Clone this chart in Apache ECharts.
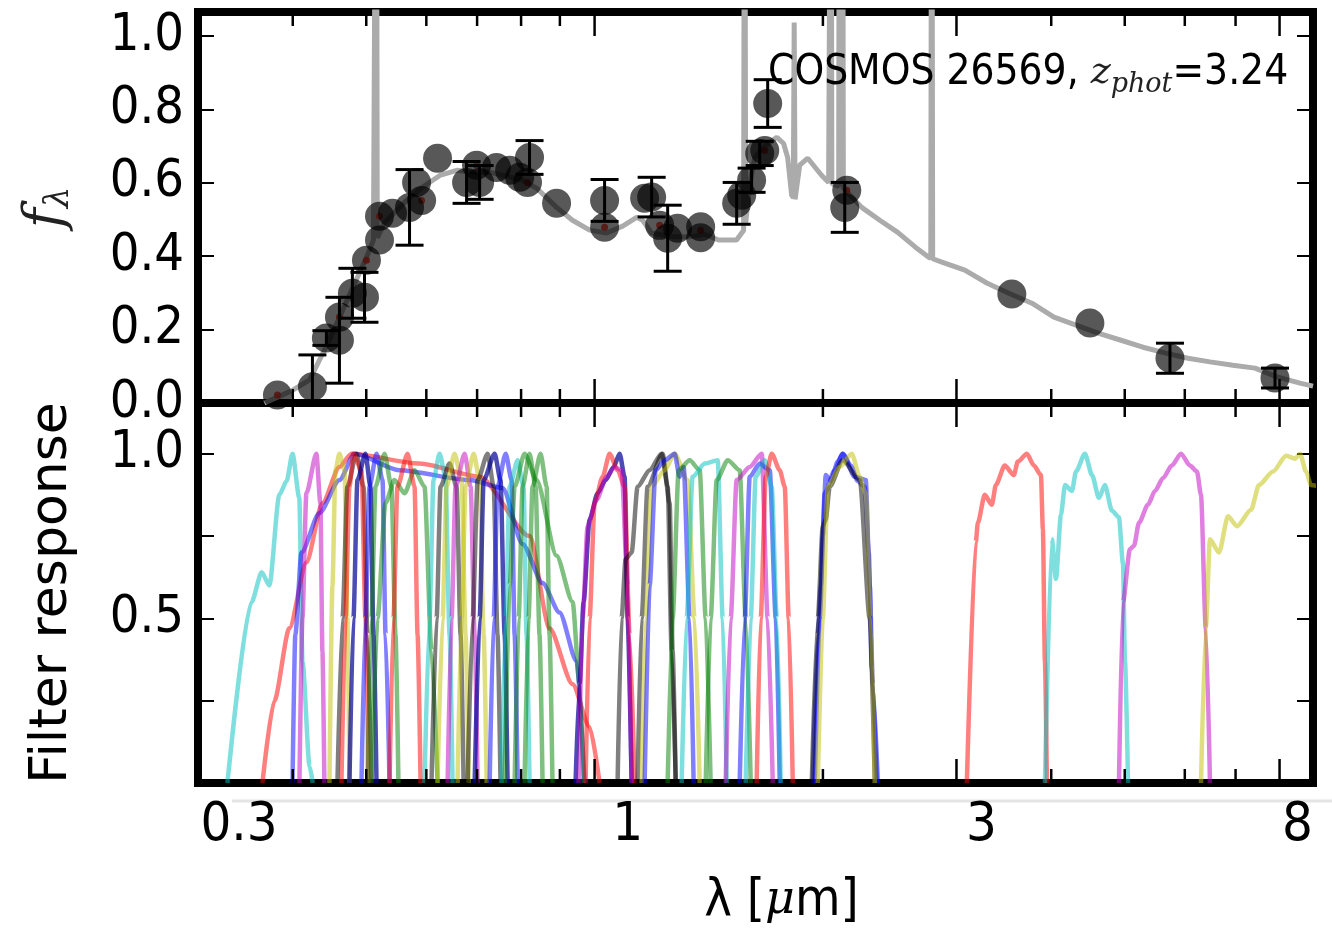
<!DOCTYPE html>
<html><head><meta charset="utf-8">
<script src="https://cdn.jsdelivr.net/npm/echarts@6/dist/echarts.min.js"></script>
<style>html,body{margin:0;padding:0;background:#fff}#c{width:1332px;height:928px}</style>
</head><body><div id="c"></div>
<script>
// ---------------- DATA ----------------
// model SED (wavelength in micron, f_lambda)
const modelLam = [0.367,0.382,0.400,0.421,0.447,0.475,0.500,0.511,0.514,0.5155,0.517,0.528,0.545,0.565,0.593,0.625,0.658,0.690,0.727,0.765,0.804,0.839,0.891,0.935,0.985,1.037,1.089,1.136,1.157,1.189,1.256,1.326,1.397,1.457,1.539,1.563,1.572,1.577,1.582,1.601,1.626,1.671,1.717,1.739,1.775,1.797,1.819,1.828,1.833,1.838,1.848,1.864,1.910,1.993,2.035,2.045,2.05,2.055,2.098,2.103,2.108,2.118,2.123,2.128,2.131,2.250,2.377,2.510,2.651,2.758,2.775,2.783,2.791,2.870,3.077,3.289,3.517,3.772,4.033,4.312,4.623,4.943,5.284,5.666,6.058,6.477,6.944,7.425,7.940,8.512,8.855];
const modelF   = [0,0.016,0.035,0.063,0.171,0.294,0.395,0.444,0.445,2.0,0.45,0.490,0.520,0.552,0.588,0.620,0.634,0.629,0.629,0.618,0.607,0.585,0.533,0.498,0.471,0.463,0.482,0.506,0.498,0.463,0.454,0.452,0.460,0.444,0.444,0.463,0.47,2.0,0.49,0.593,0.669,0.697,0.716,0.724,0.707,0.669,0.566,0.56,1.037,0.555,0.552,0.648,0.667,0.620,0.601,0.60,2.0,0.598,0.59,2.0,0.589,0.588,2.0,0.586,0.585,0.533,0.498,0.465,0.424,0.397,0.395,2.0,0.393,0.384,0.362,0.327,0.299,0.272,0.234,0.212,0.190,0.171,0.152,0.136,0.122,0.112,0.103,0.095,0.071,0.054,0.046];

// observed photometry
const photLam = [0.3818,0.4246,0.4430,0.4609,0.4609,0.4794,0.4973,0.5003,0.5205,0.5205,0.5415,0.5702,0.5915,0.5825,0.6208,0.6780,0.6989,0.7054,0.7425,0.7727,0.7966,0.8208,0.8157,0.8910,1.0308,1.0308,1.1641,1.1891,1.2183,1.2484,1.2866,1.3799,1.3799,1.5393,1.5630,1.6107,1.6509,1.6763,1.6913,2.1503,2.1370,3.549,4.498,5.736,7.890];
const photF   = [0.022,0.044,0.177,0.171,0.234,0.299,0.288,0.389,0.444,0.509,0.517,0.533,0.552,0.601,0.667,0.601,0.648,0.601,0.642,0.634,0.615,0.669,0.601,0.544,0.552,0.479,0.558,0.561,0.484,0.449,0.476,0.480,0.450,0.544,0.566,0.607,0.680,0.688,0.816,0.580,0.533,0.297,0.218,0.122,0.068];
const photErr = [0,0.087,0.02,0.117,0,0.068,0.068,0,0,0,0,0.103,0,0,0,0.057,0,0.046,0,0,0,0.046,0,0,0.057,0,0,0.054,0,0.090,0,0,0,0.057,0,0.033,0.033,0,0.065,0,0.068,0,0,0.041,0.027];

// model photometry (small red markers)
const redLam = [0.3818,0.4609,0.5003,0.5205,0.5915,0.6989,0.8157,1.0308,1.2183,1.3799,1.6763,2.1503];
const redF   = [0.022,0.234,0.389,0.509,0.552,0.648,0.601,0.479,0.484,0.471,0.688,0.580];

// filter transmission curves
const filterColor = ['c','r','b','m','y','k','r','b2','b','g','g','r','c','k','y','m','y','k','b2','b','c','g','g','g','b2','r','m','k','k','y','b','g','c','g','m','b','c','r','b','b','k','y','r','c','m','y'];
const filterLam = [
 [0.328,0.353,0.364,0.3726,0.384,0.3926,0.3997,0.408,0.412,0.421,0.425],
 [0.3648,0.3783,0.3959,0.4169,0.4377,0.4609,0.478,0.5878,0.7054,0.8208,0.8722,0.9354,0.9849,1.0153],
 [0.3997,0.4031,0.4107,0.4337,0.4609,0.4825,0.5531,0.6843,0.7564,0.8036,0.8539,0.8991,0.9468,0.9701],
 [0.4082,0.4119,0.4169,0.4297,0.4350,0.4377,0.4403],
 [0.4471,0.4512,0.4553,0.4609,0.4680,0.4722,0.4751],
 [0.4581,0.4652,0.4722,0.4854,0.4958,0.5018,0.5080],
 [0.4637,0.4694,0.4751,0.4809,0.4928,0.4988,0.5034],
 [0.4751,0.4809,0.4868,0.4988,0.5064,0.5111,0.5158],
 [0.4928,0.4988,0.5049,0.5158,0.5253,0.5302,0.5366],
 [0.5018,0.5080,0.5142,0.5285,0.5397,0.5464,0.5513],
 [0.5080,0.5174,0.5300,0.5446,0.5616,0.5789,0.5967,0.6095,0.6208],
 [0.5366,0.5430,0.5497,0.5668,0.5789,0.5843,0.5896],
 [0.5967,0.6059,0.6132,0.6246,0.6360,0.6439,0.6497],
 [0.6095,0.6190,0.6265,0.6439,0.6577,0.6658,0.6719],
 [0.6208,0.6304,0.6380,0.6537,0.6678,0.6760,0.6822],
 [0.6401,0.6478,0.6557,0.6740,0.6864,0.6948,0.7011],
 [0.6597,0.6678,0.6760,0.6927,0.7054,0.7141,0.7206],
 [0.6801,0.6906,0.7012,0.7228,0.7361,0.7448,0.7516],
 [0.6948,0.7054,0.7141,0.7383,0.7516,0.7611,0.7679],
 [0.7272,0.7361,0.7448,0.7634,0.7774,0.7845,0.7917],
 [0.7538,0.7634,0.7727,0.7917,0.8060,0.8134,0.8208],
 [0.7845,0.7941,0.8036,0.8208,0.8360,0.8461,0.8539],
 [0.7610,0.7727,0.7845,0.8085,0.8386,0.8910,0.9354,0.9554,0.9671],
 [0.8085,0.8183,0.8283,0.8487,0.8645,0.8722,0.8800],
 [0.9439,0.9554,0.9671,0.9849,1.0092,1.0340,1.0595,1.0789,1.0954,1.1054,1.1190],
 [0.9730,0.9849,1.0,1.0247,1.0466,1.0723,1.0954,1.1122,1.1293],
 [0.9526,0.9643,0.9790,1.0061,1.0371,1.0627,1.0854,1.1054,1.1190],
 [1.0723,1.0854,1.0988,1.1190,1.1395,1.1819,1.2257,1.2484,1.2636,1.2793],
 [1.1395,1.1535,1.1746,1.2294,1.2559,1.2674,1.2793],
 [1.1535,1.1675,1.1891,1.2368,1.2751,1.3264,1.3548,1.3757],
 [1.1641,1.1819,1.2036,1.2368,1.2751,1.2946,1.3104,1.3346,1.3508],
 [1.2484,1.2674,1.2907,1.3346,1.3757,1.4013,1.4223],
 [1.3025,1.3224,1.3466,1.3971,1.4533,1.4755,1.4934],
 [1.4013,1.4223,1.4487,1.4983,1.5535,1.5821,1.6064],
 [1.4888,1.5116,1.5393,1.6015,1.6608,1.6913,1.7175],
 [1.5535,1.5774,1.6015,1.6509,1.7018,1.7333,1.7543],
 [1.5821,1.6064,1.6308,1.6763,1.7122,1.7388,1.7595],
 [1.6357,1.6558,1.6813,1.7122,1.7543,1.7812,1.8030,1.8251],
 [1.9395,1.9692,1.9873,1.9992,2.0172,2.0479,2.0922,2.1243,2.1764,2.2233,2.2710,2.2989,2.3196,2.3552],
 [1.9513,1.9810,2.0112,2.0731,2.1243,2.2029,2.2778,2.3056,2.3271,2.3628],
 [1.9336,1.9692,1.9992,2.0172,2.0417,2.1243,2.2367,2.3056,2.3411],
 [1.9692,1.9992,2.0297,2.1048,2.1833,2.2367,2.2778,2.3127,2.3411],
 [3.096,3.181,3.201,3.269,3.340,3.381,3.474,3.571,3.614,3.715,3.795,3.877,3.900,3.924,3.948],
 [3.924,4.008,4.058,4.120,4.171,4.260,4.312,4.431,4.527,4.623,4.708,4.809,4.913,4.973,5.004,5.050],
 [4.913,4.973,5.080,5.142,5.221,5.365,5.481,5.617,5.768,5.931,6.095,6.226,6.302,6.395,6.477],
 [6.302,6.395,6.477,6.657,6.841,7.031,7.337,7.516,7.843,8.160,8.386,8.514,8.670,8.800,9.05]
];
const filterResp = [
 [0,0.55,0.64,0.60,0.875,0.917,1.0,0.866,0.37,0.05,0],
 [0,0.25,0.47,0.67,0.85,0.96,1.0,0.97,0.93,0.75,0.47,0.30,0.17,0],
 [0,0.45,0.7,0.82,0.92,1.0,0.95,0.92,0.896,0.726,0.607,0.518,0.37,0],
 [0,0.5,0.88,1.0,0.85,0.4,0],
 [0,0.6,0.95,1.0,0.95,0.5,0],
 [0,0.5,0.9,1.0,0.9,0.45,0],
 [0,0.5,0.9,1.0,0.95,0.5,0],
 [0,0.5,0.92,1.0,0.9,0.45,0],
 [0,0.5,0.9,1.0,0.92,0.45,0],
 [0,0.5,0.9,1.0,0.9,0.45,0],
 [0,0.5,0.85,0.92,0.88,0.95,0.9,0.4,0],
 [0,0.5,0.9,1.0,0.9,0.45,0],
 [0,0.5,0.92,1.0,0.93,0.45,0],
 [0,0.5,0.9,0.97,0.9,0.45,0],
 [0,0.5,0.9,1.0,0.92,0.45,0],
 [0,0.5,0.9,1.0,0.9,0.45,0],
 [0,0.5,0.9,1.0,0.92,0.45,0],
 [0,0.5,0.92,1.0,0.9,0.45,0],
 [0,0.5,0.92,1.0,0.92,0.45,0],
 [0,0.5,0.9,1.0,0.92,0.45,0],
 [0,0.5,0.9,0.98,0.9,0.45,0],
 [0,0.5,0.9,1.0,0.9,0.45,0],
 [0,0.6,0.9,1.0,0.92,0.69,0.55,0.3,0],
 [0,0.5,0.9,1.0,0.9,0.45,0],
 [0,0.3,0.55,0.8,0.88,0.92,0.96,1.0,0.93,0.5,0],
 [0,0.5,0.85,0.93,1.0,0.95,0.9,0.45,0],
 [0,0.5,0.78,0.86,0.93,0.96,0.95,0.6,0],
 [0,0.5,0.68,0.7,0.9,0.95,1.0,0.9,0.4,0],
 [0,0.5,0.9,1.0,0.85,0.4,0],
 [0,0.5,0.9,0.95,1.0,0.92,0.5,0],
 [0,0.6,0.95,0.98,1.0,0.93,0.96,0.5,0],
 [0,0.5,0.95,0.98,0.95,0.5,0],
 [0,0.5,0.93,0.97,0.98,0.5,0],
 [0,0.5,0.92,0.98,0.95,0.5,0],
 [0,0.5,0.92,0.96,1.0,0.5,0],
 [0,0.5,0.93,0.97,0.95,0.5,0],
 [0,0.5,0.93,0.98,0.9,0.5,0],
 [0,0.5,0.93,1.0,0.95,0.9,0.5,0],
 [0,0.45,0.6,0.75,0.935,0.917,0.976,1.0,0.964,0.917,0.9,0.7,0.35,0],
 [0,0.5,0.88,0.95,1.0,0.93,0.92,0.6,0.3,0],
 [0,0.5,0.78,0.8,0.9,0.98,0.92,0.5,0],
 [0,0.5,0.9,0.96,1.0,0.93,0.88,0.5,0],
 [0,0.73,0.79,0.875,0.845,0.905,0.964,0.935,0.976,1.0,0.964,0.935,0.77,0.37,0],
 [0,0.74,0.62,0.815,0.905,0.887,0.946,1.0,0.935,0.866,0.905,0.827,0.807,0.667,0.37,0],
 [0,0.55,0.71,0.72,0.79,0.845,0.887,0.926,0.964,1.0,0.964,0.946,0.875,0.47,0],
 [0,0.47,0.74,0.70,0.81,0.78,0.83,0.905,0.946,0.994,0.985,1.0,0.946,0.905,0.9]
];

// axis ticks / labels
const xRange = [0.3, 8.855];
const xMinorTicks = [0.4,0.5,0.6,0.7,0.8,0.9,2,4,5,6,7];
const xMajorTicks = [1,3,8];
const xLabelVals = [0.3,1,3,8];
const xLabelText = ['0.3','1','3','8'];
const xLabelShift = [82,66,50,36];
const topYTicks = [0,0.2,0.4,0.6,0.8,1.0];
const topYRange = [0,1.0654];
const botYTicks = [0.25,0.5,0.75,1.0];
const botYLabels = [0.5,1.0];
const botYRange = [0,1.154];

// ---------------- CHART ----------------
const L = v => Math.log10(v);
const COLORS = {c:'rgba(0,191,191,0.5)', m:'rgba(191,0,191,0.5)', y:'rgba(191,191,0,0.5)', r:'rgba(255,0,0,0.5)',
  b:'rgba(0,0,255,0.5)', b2:'rgba(0,0,150,0.7)', g:'rgba(0,128,0,0.5)', k:'rgba(0,0,0,0.5)'};
const FONT = "'DejaVu Sans Condensed','DejaVu Sans',sans-serif";
const XMIN = L(xRange[0]), XMAX = L(xRange[1]);

function labelIndex(v) {
  for (let i = 0; i < xLabelVals.length; i++) if (Math.abs(L(xLabelVals[i]) - v) < 1e-6) return i;
  return -1;
}
const labelRich = {};
xLabelText.forEach((t,i)=>{ labelRich['l'+i] = {fontFamily:FONT, fontSize:54, color:'#000', padding:[0,0,0,xLabelShift[i]]}; });

function xAx(gridIndex, position, withLabels, extra) {
  return Object.assign({
    type:'value', gridIndex, position, min:XMIN, max:XMAX,
    axisLine:{show:false, onZero:false}, splitLine:{show:false},
    axisTick:{show:false},
    axisLabel:{show:withLabels, margin:16, customValues: xLabelVals.map(L),
      formatter: v => { const i = labelIndex(v); return i >= 0 ? '{l'+i+'|'+xLabelText[i]+'}' : ''; },
      rich: labelRich}
  }, extra || {});
}
function yAx(gridIndex, position, range, ticks, extra) {
  return Object.assign({
    type:'value', gridIndex, position, min:range[0], max:range[1],
    axisLine:{show:false, onZero:false}, splitLine:{show:false},
    axisTick:{show:true, inside:true, length:16, lineStyle:{color:'#000', width:2}, customValues: ticks},
    axisLabel:{show:false}
  }, extra || {});
}

const xAxes = [
  xAx(0,'bottom',false),
  xAx(0,'top',false),
  xAx(1,'bottom',true,{
    name:'{n|λ [}{i|μ}{n|m]}', nameLocation:'middle', nameGap:92,
    nameTextStyle:{padding:[0,0,0,52], rich:{n:{fontFamily:FONT, fontSize:52, color:'#000'}, i:{fontFamily:"'DejaVu Serif',serif", fontStyle:'italic', fontSize:46, color:'#000'}}}
  }),
  xAx(1,'top',false)
];

const yAxes = [
  yAx(0,'left',topYRange,topYTicks,{
    axisLabel:{show:true, margin:14, customValues: topYTicks, formatter: v => v.toFixed(1), fontFamily:FONT, fontSize:52, color:'#000'},
    name:'{f|f}{s|λ}', nameLocation:'middle', nameGap:122, nameRotate:90,
    nameTextStyle:{rich:{f:{fontFamily:"'DejaVu Serif',serif", fontStyle:'italic', fontSize:54, color:'#222'}, s:{fontFamily:"'DejaVu Serif',serif", fontStyle:'italic', fontSize:34, color:'#222', padding:[22,0,0,0]}}}
  }),
  yAx(0,'right',topYRange,topYTicks),
  yAx(1,'left',botYRange,botYTicks,{
    axisLabel:{show:true, margin:14, customValues: botYLabels, formatter: v => v.toFixed(1), fontFamily:FONT, fontSize:52, color:'#000'},
    name:'Filter response', nameLocation:'middle', nameGap:120, nameRotate:90,
    nameTextStyle:{fontFamily:"'DejaVu Sans',sans-serif", fontSize:52, color:'#000'}
  }),
  yAx(1,'right',botYRange,botYTicks)
];

// x-axis tick marks (log-spaced minor/major) at both edges of each panel
function tickSeries(xi, yi, yr) {
  const data = xMinorTicks.map(v=>[L(v), 14]).concat(xMajorTicks.map(v=>[L(v), 24]));
  return {type:'custom', name:'xticks'+xi, xAxisIndex:xi, yAxisIndex:yi, silent:true, z:6, clip:false,
    encode:{x:0, y:1}, data,
    renderItem: (params, api) => {
      const xv = api.value(0), len = api.value(1);
      const pb = api.coord([xv, yr[0]]), pt = api.coord([xv, yr[1]]);
      const st = {stroke:'#000', lineWidth:2.5};
      return {type:'group', children:[
        {type:'line', shape:{x1:pt[0], y1:pt[1], x2:pt[0], y2:pt[1]+len}, style:st},
        {type:'line', shape:{x1:pb[0], y1:pb[1], x2:pb[0], y2:pb[1]-len}, style:st}
      ]};
    }};
}

const series = [];
series.push({type:'line', name:'model', xAxisIndex:0, yAxisIndex:0, showSymbol:false, silent:true, z:2,
  lineStyle:{color:'#ababab', width:5}, data: modelLam.map((l,i)=>[L(l), modelF[i]])});
series.push({type:'scatter', name:'model phot', xAxisIndex:0, yAxisIndex:0, silent:true, z:3,
  symbolSize:7, itemStyle:{color:'#ff2a1a'}, data: redLam.map((l,i)=>[L(l), redF[i]])});
series.push({type:'custom', name:'errors', xAxisIndex:0, yAxisIndex:0, silent:true, z:4,
  data: photLam.map((l,i)=>[L(l), photF[i], photErr[i]]).filter(d=>d[2]>0),
  renderItem: (params, api) => {
    const x = api.value(0), y = api.value(1), e = api.value(2);
    const t = api.coord([x, y+e]), b = api.coord([x, y-e]);
    const hw = 14, st = {stroke:'#000', lineWidth:3};
    return {type:'group', children:[
      {type:'line', shape:{x1:t[0],y1:t[1],x2:b[0],y2:b[1]}, style:st},
      {type:'line', shape:{x1:t[0]-hw,y1:t[1],x2:t[0]+hw,y2:t[1]}, style:st},
      {type:'line', shape:{x1:b[0]-hw,y1:b[1],x2:b[0]+hw,y2:b[1]}, style:st}
    ]};
  }, clip:true});
series.push({type:'scatter', name:'observed', xAxisIndex:0, yAxisIndex:0, silent:true, z:5,
  symbolSize:29, itemStyle:{color:'rgba(0,0,0,0.82)'}, data: photLam.map((l,i)=>[L(l), photF[i]])});
filterLam.forEach((lam,k)=>{
  series.push({type:'line', name:'filter'+k, xAxisIndex:2, yAxisIndex:2, showSymbol:false, silent:true, z:2,
    smooth:0.25, smoothMonotone:'x',
    lineStyle:{color:COLORS[filterColor[k]], width:4.5}, data: lam.map((l,i)=>[L(l), filterResp[k][i]])});
});
series.push(tickSeries(0,0,topYRange));
series.push(tickSeries(2,2,botYRange));

const chart = echarts.init(document.getElementById('c'), null, {renderer:'canvas'});
chart.setOption({
  animation:false,
  backgroundColor:'#fff',
  grid:[
    {left:198, top:12, width:1115, height:391, show:true, borderColor:'#000', borderWidth:8},
    {left:198, top:403, width:1115, height:390, show:true, borderColor:'#000', borderWidth:8}
  ],
  xAxis:xAxes, yAxis:yAxes, series,
  graphic:[
    {type:'line', shape:{x1:232,y1:801,x2:1332,y2:801}, style:{stroke:'#e4e4e4', lineWidth:3}, z:-1},
    {type:'text', left:768, top:52, z:20, style:{
      text:'{a|COSMOS 26569, }{z|z}{s|phot}{a|=3.24}',
      rich:{
        a:{fontFamily:FONT, fontSize:42, fill:'#000'},
        z:{fontFamily:"'DejaVu Serif',serif", fontStyle:'italic', fontSize:38, fill:'#222'},
        s:{fontFamily:"'DejaVu Serif',serif", fontStyle:'italic', fontSize:27, fill:'#222', padding:[24,0,0,0]}
      }}}
  ]
});
</script></body></html>
